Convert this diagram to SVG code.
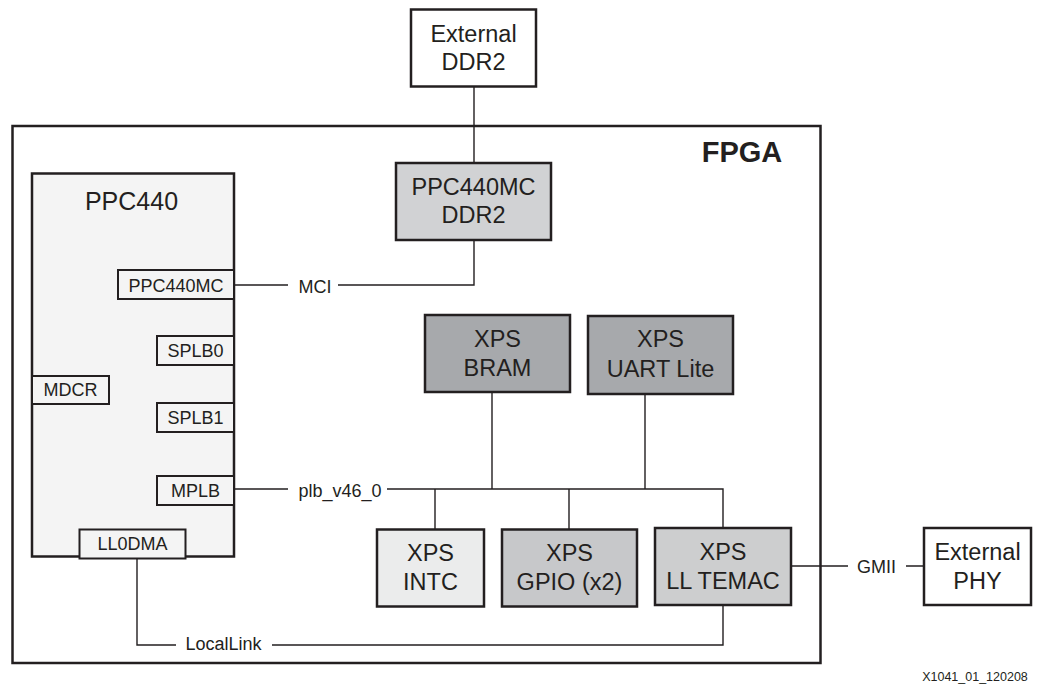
<svg xmlns="http://www.w3.org/2000/svg" width="1039" height="684" viewBox="0 0 1039 684">
<style>
text{font-family:"Liberation Sans",Arial,sans-serif;fill:#231f20;text-anchor:middle}
.box{stroke:#231f20;stroke-width:2.5}
.sb{stroke:#231f20;stroke-width:2}
.big{font-size:23.5px}
.sm{font-size:18px}
.conn{fill:none;stroke:#231f20;stroke-width:1.4}
</style>
<rect width="1039" height="684" fill="#fff"/>
<g id="fpga">
<rect x="12.5" y="126" width="808" height="537" fill="none" class="box"/>
<text x="742" y="162" style="font-size:29px;font-weight:bold">FPGA</text>
</g>
<g id="connectors">
<path class="conn" d="M474 87V163M474 240V285H338M288 285H234"/>
<path class="conn" d="M234 489H288M387 489H723V528M435 489V529M569 489V529M492 392V489M645 394V489"/>
<path class="conn" d="M137 558V645H176M272 645H723V605"/>
<path class="conn" d="M791 566H848M906 566H924"/>
<text x="315" y="292.7" class="sm">MCI</text>
<text x="340" y="496.7" class="sm">plb_v46_0</text>
<text x="223.5" y="650" class="sm">LocalLink</text>
<text x="876.5" y="573.3" class="sm">GMII</text>
</g>
<g id="ext_ddr2">
<rect x="411" y="9.5" width="125" height="77" fill="#fff" class="box"/>
<text x="473.5" y="41.7" class="big">External</text>
<text x="473.5" y="70" class="big">DDR2</text>
</g>
<g id="ppc440mc_ddr2">
<rect x="396" y="163" width="155" height="77" fill="#d1d2d4" class="box"/>
<text x="473.5" y="195" class="big">PPC440MC</text>
<text x="473.5" y="223.3" class="big">DDR2</text>
</g>
<g id="ppc440">
<rect x="32" y="173.5" width="202" height="383" fill="#f4f4f4" class="box"/>
<text x="131.5" y="210" style="font-size:25px">PPC440</text>
</g>
<g id="port_ppc440mc">
<rect x="118" y="270" width="116" height="29" fill="#f4f4f4" class="sb"/>
<text x="176" y="291.7" class="sm">PPC440MC</text>
</g>
<g id="port_splb0">
<rect x="157" y="336" width="77" height="29" fill="#f4f4f4" class="sb"/>
<text x="195.5" y="356.5" class="sm">SPLB0</text>
</g>
<g id="port_mdcr">
<rect x="32" y="376" width="77" height="28" fill="#f4f4f4" class="sb"/>
<text x="70.5" y="396" class="sm">MDCR</text>
</g>
<g id="port_splb1">
<rect x="157" y="403" width="77" height="29" fill="#f4f4f4" class="sb"/>
<text x="195.5" y="424" class="sm">SPLB1</text>
</g>
<g id="port_mplb">
<rect x="157" y="476" width="77" height="29" fill="#f4f4f4" class="sb"/>
<text x="195.5" y="496.7" class="sm">MPLB</text>
</g>
<g id="port_ll0dma">
<rect x="79.5" y="529.5" width="106" height="29" fill="#f4f4f4" class="sb"/>
<text x="132.5" y="550" class="sm">LL0DMA</text>
</g>
<g id="xps_bram">
<rect x="425" y="315" width="145" height="77" fill="#a7a9ac" class="box"/>
<text x="497.5" y="346.7" class="big">XPS</text>
<text x="497.5" y="376" class="big">BRAM</text>
</g>
<g id="xps_uart">
<rect x="588" y="316" width="145" height="78" fill="#a7a9ac" class="box"/>
<text x="660.5" y="347" class="big">XPS</text>
<text x="660.5" y="377" class="big">UART Lite</text>
</g>
<g id="xps_intc">
<rect x="377" y="529.5" width="107" height="77" fill="#ebecec" class="box"/>
<text x="430.5" y="560.7" class="big">XPS</text>
<text x="430.5" y="590" class="big">INTC</text>
</g>
<g id="xps_gpio">
<rect x="502" y="529.5" width="135" height="77" fill="#c7c8ca" class="box"/>
<text x="569.5" y="560.7" class="big">XPS</text>
<text x="569.5" y="590" class="big">GPIO (x2)</text>
</g>
<g id="xps_temac">
<rect x="655" y="528" width="136" height="77" fill="#cdcecf" class="box"/>
<text x="723" y="559.5" class="big">XPS</text>
<text x="723" y="588.5" class="big">LL TEMAC</text>
</g>
<g id="ext_phy">
<rect x="924" y="528" width="107" height="77" fill="#fff" class="box"/>
<text x="977.5" y="559.5" class="big">External</text>
<text x="977.5" y="588.5" class="big">PHY</text>
</g>
<text x="975" y="681" style="font-size:12.5px">X1041_01_120208</text>
</svg>
